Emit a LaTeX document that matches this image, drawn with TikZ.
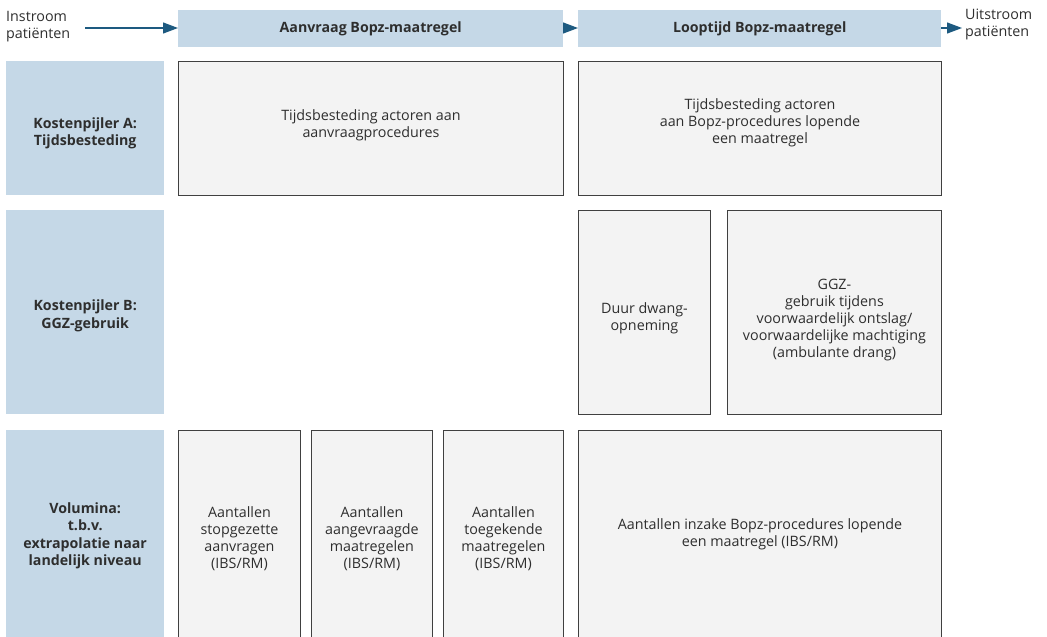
\documentclass[tikz,border=0pt]{standalone}
\usepackage{fontspec}
\setmainfont{Open Sans}
\usetikzlibrary{arrows.meta}
\definecolor{hdrblue}{HTML}{C5D8E7}
\definecolor{boxgray}{HTML}{F3F3F3}
\definecolor{txt}{HTML}{2E2E2E}
\definecolor{arrblue}{HTML}{1D5A80}
\begin{document}
\begin{tikzpicture}[x=1pt,y=-1pt,
  every node/.style={text=txt, font=\fontsize{14.3}{17}\selectfont},
  bold/.style={font=\fontsize{14.2}{17.5}\selectfont\bfseries},
  hdr/.style={fill=hdrblue, draw=none, inner sep=0pt, anchor=north west, align=center, bold},
  cbox/.style={fill=boxgray, draw=black!75, line width=0.9pt, inner sep=0pt, anchor=north west},
  lbl/.style={align=center, inner sep=0pt},
  flow/.style={draw=arrblue, line width=1.2pt, -{Triangle[length=15pt,width=11pt]}}
]
\useasboundingbox (0,0) rectangle (1047,637);
\clip (0,0) rectangle (1047,637);
% header row
\node[hdr, minimum width=385pt, minimum height=37pt] (aanv) at (178,10) {Aanvraag Bopz-maatregel};
\node[hdr, minimum width=363pt, minimum height=37pt] (loop) at (578,10) {Looptijd Bopz-maatregel};
\node[anchor=west, align=left, inner sep=0pt] (in) at (6,27) {Instroom\\pati\"enten};
\node[anchor=west, align=left, inner sep=0pt] (uit) at (965,24) {Uitstroom\\pati\"enten};
\coordinate (inA) at (85,28);
\coordinate (uitA) at (962,28);
\draw[flow] (inA) -- (aanv.west |- inA);
\draw[flow] (aanv.east |- inA) -- (loop.west |- inA);
\draw[flow] (loop.east |- inA) -- (uitA);
% left labels
\node[hdr, minimum width=158pt, minimum height=134pt] (kA) at (6,61) {};
\node[lbl, bold] (kAt) at ([yshift=-5pt]kA.center) {Kostenpijler A:\\Tijdsbesteding};
\node[hdr, minimum width=158pt, minimum height=204pt] (kB) at (6,210) {};
\node[lbl, bold] (kBt) at ([yshift=-3.5pt]kB.center) {Kostenpijler B:\\GGZ-gebruik};
\node[hdr, minimum width=158pt, minimum height=208pt] (vol) at (6,430) {};
\node[lbl, bold] (volt) at ([yshift=-1.5pt]vol.center) {Volumina:\\t.b.v.\\extrapolatie naar\\landelijk niveau};
% row 1
\node[cbox, minimum width=385pt, minimum height=134pt] (a1) at (178,61) {};
\node[lbl] (a1t) at ([yshift=3.5pt]a1.center) {Tijdsbesteding actoren aan\\aanvraagprocedures};
\node[cbox, minimum width=363pt, minimum height=134pt] (a2) at (578,61) {};
\node[lbl] (a2t) at ([yshift=6pt]a2.center) {Tijdsbesteding actoren\\aan Bopz-procedures lopende\\een maatregel};
% row 2
\node[cbox, minimum width=132pt, minimum height=204pt] (b1) at (578,210) {};
\node[lbl] (b1t) at ([yshift=-6pt]b1.center) {Duur dwang-\\opneming};
\node[cbox, minimum width=214pt, minimum height=204pt] (b2) at (727,210) {};
\node[lbl] (b2t) at ([yshift=-8pt]b2.center) {GGZ-\\gebruik tijdens\\voorwaardelijk ontslag/\\voorwaardelijke machtiging\\(ambulante drang)};
% row 3
\node[cbox, minimum width=122pt, minimum height=208pt] (c1) at (178,430) {};
\node[lbl] (c1t) at ([yshift=-4pt]c1.center) {Aantallen\\stopgezette\\aanvragen\\(IBS/RM)};
\node[cbox, minimum width=121pt, minimum height=208pt] (c2) at (311,430) {};
\node[lbl] (c2t) at ([yshift=-4pt]c2.center) {Aantallen\\aangevraagde\\maatregelen\\(IBS/RM)};
\node[cbox, minimum width=120pt, minimum height=208pt] (c3) at (443,430) {};
\node[lbl] (c3t) at ([yshift=-4pt]c3.center) {Aantallen\\toegekende\\maatregelen\\(IBS/RM)};
\node[cbox, minimum width=363pt, minimum height=208pt] (c4) at (578,430) {};
\node[lbl] (c4t) at (c4.center) {Aantallen inzake Bopz-procedures lopende\\een maatregel (IBS/RM)};
\end{tikzpicture}
\end{document}
